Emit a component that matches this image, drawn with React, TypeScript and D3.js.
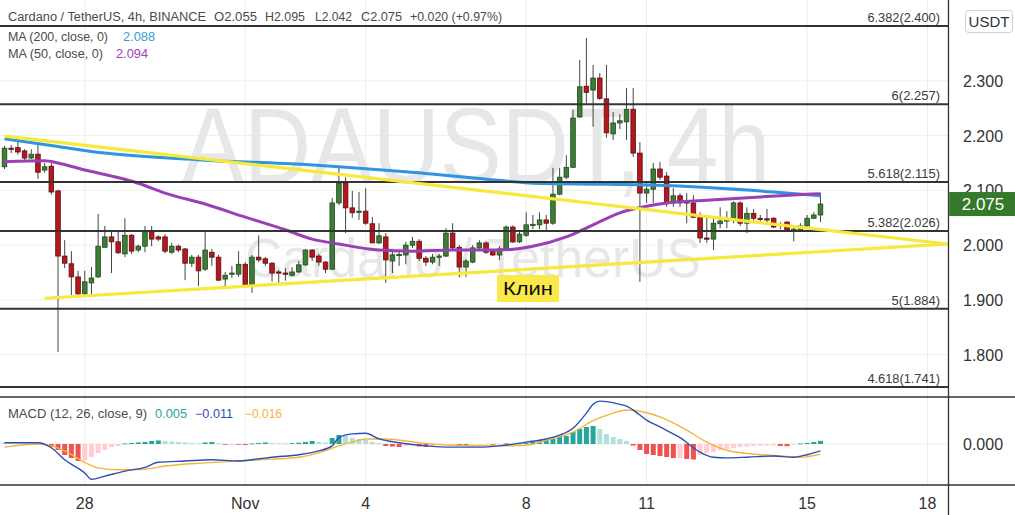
import React from "react";
import * as d3 from "d3";

// ---------- DATA ----------
const T0 = Date.UTC(2021, 9, 26, 0, 0); // first 4h candle: 26 Oct 00:00
const H4 = 4 * 3600 * 1000;

const opens = [
  2.143, 2.177, 2.178, 2.172, 2.159, 2.166, 2.137, 2.144, 2.099, 1.98,
  1.966, 1.942, 1.911, 1.931, 1.942, 1.996, 2.015, 2.006, 1.984, 2.018,
  1.991, 1.998, 2.026, 2.015, 2.015, 1.987, 1.998, 1.993, 1.967, 1.978,
  1.956, 1.987, 1.978, 1.938, 1.947, 1.947, 1.965, 1.927, 1.978, 1.975,
  1.967, 1.951, 1.949, 1.945, 1.951, 1.964, 1.991, 1.98, 1.969, 1.956,
  2.077, 2.113, 2.068, 2.062, 2.062, 2.039, 2.004, 2.015, 1.971, 1.982,
  1.982, 2.0, 2.007, 1.976, 1.969, 1.978, 1.98, 2.022, 1.996, 1.96,
  1.969, 1.995, 2.004, 1.989, 1.982, 1.993, 2.033, 2.006, 2.018, 2.036,
  2.037, 2.046, 2.04, 2.093, 2.124, 2.142, 2.234, 2.29, 2.283, 2.305,
  2.267, 2.203, 2.223, 2.225, 2.248, 2.168, 2.095, 2.102, 2.139, 2.126,
  2.077, 2.09, 2.079, 2.077, 2.053, 2.013, 2.011, 2.039, 2.044, 2.045,
  2.077, 2.04, 2.058, 2.049, 2.048, 2.049, 2.036, 2.042, 2.027, 2.027,
  2.035, 2.049, 2.055,
];
const highs = [
  2.181, 2.183, 2.188, 2.175, 2.175, 2.188, 2.15, 2.15, 2.101, 2.009,
  1.989, 1.953, 1.953, 1.96, 2.057, 2.035, 2.024, 2.024, 2.049, 2.02,
  2.001, 2.035, 2.035, 2.018, 2.02, 2.004, 2.001, 1.995, 1.982, 1.982,
  2.024, 1.993, 1.982, 1.951, 1.962, 1.989, 1.969, 1.982, 2.018, 1.978,
  1.969, 1.955, 1.958, 1.96, 1.971, 1.993, 1.993, 1.984, 1.971, 2.086,
  2.141, 2.124, 2.099, 2.097, 2.104, 2.051, 2.04, 2.022, 1.989, 1.991,
  2.006, 2.015, 2.011, 1.98, 1.984, 1.984, 2.031, 2.04, 2.0, 1.975,
  2.0, 2.009, 2.007, 1.991, 1.998, 2.036, 2.036, 2.027, 2.06, 2.055,
  2.06, 2.055, 2.141, 2.141, 2.164, 2.247, 2.338, 2.378, 2.329, 2.314,
  2.329, 2.243, 2.239, 2.287, 2.287, 2.188, 2.113, 2.15, 2.152, 2.133,
  2.104, 2.095, 2.095, 2.091, 2.06, 2.051, 2.051, 2.069, 2.062, 2.08,
  2.08, 2.069, 2.066, 2.055, 2.066, 2.051, 2.042, 2.044, 2.036, 2.04,
  2.055, 2.06, 2.095,
];
const lows = [
  2.139, 2.168, 2.165, 2.152, 2.157, 2.121, 2.132, 2.092, 1.805, 1.958,
  1.909, 1.909, 1.909, 1.909, 1.94, 1.996, 1.949, 1.984, 1.978, 1.984,
  1.987, 1.987, 1.998, 2.007, 1.985, 1.984, 1.987, 1.936, 1.96, 1.925,
  1.953, 1.962, 1.935, 1.924, 1.94, 1.942, 1.924, 1.913, 1.969, 1.962,
  1.933, 1.931, 1.935, 1.943, 1.949, 1.962, 1.971, 1.962, 1.949, 1.955,
  2.073, 2.022, 2.05, 2.046, 2.037, 2.004, 2.002, 1.931, 1.949, 1.962,
  1.965, 1.995, 1.971, 1.962, 1.965, 1.962, 1.978, 1.991, 1.942, 1.942,
  1.967, 1.991, 1.984, 1.98, 1.973, 1.991, 2.004, 2.004, 2.015, 2.029,
  2.029, 2.024, 2.037, 2.091, 2.12, 2.142, 2.232, 2.259, 2.216, 2.265,
  2.196, 2.192, 2.212, 2.192, 2.161, 1.933, 2.077, 2.077, 2.119, 2.07,
  2.07, 2.07, 2.04, 2.049, 2.004, 2.004, 1.991, 2.031, 2.031, 2.04,
  2.035, 2.022, 2.044, 2.04, 2.038, 2.031, 2.029, 2.024, 2.007, 2.024,
  2.033, 2.048, 2.042,
];
const closes = [
  2.177, 2.175, 2.17, 2.159, 2.166, 2.133, 2.143, 2.097, 1.98, 1.967,
  1.942, 1.911, 1.933, 1.94, 1.998, 2.015, 2.006, 1.986, 2.018, 1.989,
  1.998, 2.026, 2.011, 2.011, 1.989, 1.998, 1.991, 1.967, 1.978, 1.953,
  1.991, 1.978, 1.936, 1.945, 1.949, 1.965, 1.927, 1.978, 1.973, 1.967,
  1.949, 1.949, 1.947, 1.951, 1.964, 1.991, 1.978, 1.969, 1.956, 2.077,
  2.113, 2.068, 2.059, 2.062, 2.04, 2.004, 2.017, 1.973, 1.982, 1.983,
  2.0, 2.007, 1.976, 1.969, 1.978, 1.98, 2.022, 1.995, 1.96, 1.971,
  1.995, 2.004, 1.987, 1.982, 1.993, 2.033, 2.006, 2.02, 2.037, 2.038,
  2.046, 2.04, 2.093, 2.124, 2.142, 2.232, 2.289, 2.279, 2.305, 2.268,
  2.205, 2.223, 2.227, 2.248, 2.168, 2.095, 2.102, 2.139, 2.124, 2.077,
  2.09, 2.077, 2.077, 2.051, 2.013, 2.011, 2.04, 2.044, 2.046, 2.077,
  2.04, 2.058, 2.049, 2.047, 2.047, 2.033, 2.038, 2.027, 2.029, 2.035,
  2.049, 2.055, 2.075,
];

// moving averages, sampled [candle number, value]
const ma200: [number, number][] = [
  [1, 2.194], [9, 2.18], [16, 2.168], [31, 2.155], [46, 2.147], [51, 2.143],
  [61, 2.134], [76, 2.117], [80, 2.113], [91, 2.111], [100, 2.109], [106, 2.105],
  [116, 2.097], [123, 2.09],
];
const ma50: [number, number][] = [
  [1, 2.152], [7, 2.154], [9, 2.15], [13, 2.137], [17, 2.126], [21, 2.113],
  [25, 2.095], [31, 2.075], [37, 2.051], [43, 2.028], [47, 2.011], [51, 2.002],
  [57, 1.991], [62, 1.989], [68, 1.991], [75, 1.991], [80, 1.998], [85, 2.015],
  [89, 2.037], [93, 2.059], [97, 2.071], [100, 2.077], [106, 2.082], [114, 2.088],
  [123, 2.094],
];

// MACD
const histogram = [
  0.0024, 0.0024, 0.0024, 0.0016, 0.0008, 0.0005, -0.0008, -0.0048, -0.0095, -0.0175,
  -0.0222, -0.027, -0.0262, -0.0206, -0.0143, -0.0095, -0.0048, -0.0032, 0.0008, 0.0016,
  0.0024, 0.0032, 0.0048, 0.0056, 0.0048, 0.004, 0.0032, 0.0024, 0.0016, 0.0008,
  0.0024, 0.0032, 0.0008, -0.0005, -0.0005, -0.0008, -0.0016, 0.0008, 0.0016, 0.0024,
  0.0016, 0.0013, 0.0008, 0.0013, 0.0019, 0.0032, 0.0048, 0.0032, 0.0024, 0.0095,
  0.0143, 0.0127, 0.0095, 0.0079, 0.0063, 0.0032, 0.0016, -0.0032, -0.004, -0.0048,
  -0.0032, -0.0024, -0.004, -0.0048, -0.0032, -0.0016, -0.0008, -0.0005, -0.0016, -0.0019,
  -0.0008, -0.0008, -0.0005, -0.0008, -0.0005, 0.0008, 0.0005, 0.0008, 0.0016, 0.0032,
  0.004, 0.0063, 0.0079, 0.0111, 0.0127, 0.019, 0.0238, 0.027, 0.0286, 0.0238,
  0.0159, 0.0111, 0.0079, 0.0048, -0.0024, -0.0095, -0.0159, -0.0175, -0.019, -0.0206,
  -0.0222, -0.0222, -0.0238, -0.0246, -0.0175, -0.0143, -0.0127, -0.0095, -0.0079, -0.0063,
  -0.0048, -0.004, -0.0032, -0.0029, -0.0024, -0.0024, -0.0032, -0.0035, -0.0008, 0.0008,
  0.0016, 0.0032, 0.005,
];
const macdLine: [number, number][] = [
  [1, 0.002], [6, 0.002], [8, -0.006], [10, -0.025], [13, -0.046], [14, -0.056],
  [16, -0.051], [19, -0.043], [22, -0.037], [24, -0.029], [28, -0.027], [32, -0.025],
  [36, -0.027], [38, -0.025], [41, -0.021], [45, -0.017], [48, -0.011], [50, -0.003],
  [51, 0.01], [53, 0.016], [55, 0.017], [57, 0.008], [60, 0.002], [64, -0.003],
  [68, -0.005], [72, -0.005], [75, -0.003], [79, 0.003], [82, 0.008], [84, 0.014],
  [86, 0.025], [88, 0.049], [89, 0.063], [90, 0.068], [93, 0.063], [94, 0.06],
  [96, 0.046], [97, 0.038], [99, 0.027], [102, 0.01], [105, -0.013], [107, -0.021],
  [109, -0.022], [112, -0.021], [116, -0.019], [119, -0.021], [121, -0.017], [123, -0.011],
];
const signalLine: [number, number][] = [
  [1, -0.005], [6, 0.0], [8, -0.003], [10, -0.011], [13, -0.029], [15, -0.038],
  [18, -0.041], [22, -0.04], [25, -0.035], [31, -0.03], [36, -0.027], [41, -0.024],
  [45, -0.021], [48, -0.014], [51, -0.003], [53, 0.003], [55, 0.008], [58, 0.008],
  [63, 0.002], [68, -0.002], [75, -0.003], [79, -0.002], [82, 0.006], [86, 0.019],
  [89, 0.037], [92, 0.049], [94, 0.054], [96, 0.052], [99, 0.043], [103, 0.022],
  [106, 0.003], [109, -0.01], [113, -0.016], [117, -0.019], [120, -0.021], [123, -0.016],
];

// Fibonacci extension levels
const levelRatios = ["6.382", "6", "5.618", "5.382", "5", "4.618"];
const levelPrices = [2.4, 2.257, 2.115, 2.026, 1.884, 1.741];

// wedge trend lines [time, price]
const upperTrend: [number, number][] = [[Date.UTC(2021, 9, 26, 0), 2.199], [Date.UTC(2021, 10, 18, 12), 2.002]];
const lowerTrend: [number, number][] = [[Date.UTC(2021, 9, 27, 0), 1.903], [Date.UTC(2021, 10, 18, 12), 2.002]];

const priceTicks = [1.8, 1.9, 2.0, 2.1, 2.2, 2.3];
const dateTickTimes = [
  Date.UTC(2021, 9, 28), Date.UTC(2021, 10, 1), Date.UTC(2021, 10, 4), Date.UTC(2021, 10, 8),
  Date.UTC(2021, 10, 11), Date.UTC(2021, 10, 15), Date.UTC(2021, 10, 18),
];
const dateTickLabels = ["28", "Nov", "4", "8", "11", "15", "18"];

// ---------- CHART ----------
const FONT = "'Liberation Sans', Arial, sans-serif";
const UP = "#3d7d35";
const DOWN = "#b3181d";

export default function App() {
  const W = 1015, H = 515;
  const PR = 948.5; // plot right edge
  const P_TOP = 0, P_BOT = 397, M_BOT = 485;

  const x = d3.scaleUtc()
    .domain([new Date(T0), new Date(Date.UTC(2021, 10, 18))])
    .range([4.5, 927.5]);
  const yP = d3.scaleLinear().domain([1.741, 2.4]).range([387, 26]);
  const yM = d3.scaleLinear().domain([-0.0651, 0.0746]).range([M_BOT, P_BOT]);
  const tOf = (n: number) => new Date(T0 + (n - 1) * H4); // n = candle number (1-based)

  const maLine = d3.line<[number, number]>()
    .x((d) => x(tOf(d[0])))
    .y((d) => yP(d[1]))
    .curve(d3.curveMonotoneX);
  const mLine = d3.line<[number, number]>()
    .x((d) => x(tOf(d[0])))
    .y((d) => yM(d[1]))
    .curve(d3.curveMonotoneX);
  const tLine = d3.line<[number, number]>()
    .x((d) => x(new Date(d[0])))
    .y((d) => yP(d[1]));

  const bodyW = 4.6;
  const histW = 5;

  const histColor = (i: number) => {
    const v = histogram[i];
    const prev = i > 0 ? histogram[i - 1] : v;
    if (v >= 0) return v > prev ? "#26a69a" : "#b2dfdb";
    return v < prev ? "#ef5350" : "#ffcdd2";
  };

  const last = closes.length - 1;

  return (
    <div style={{ position: "absolute", left: 0, top: 0 }}>
      <svg width={W} height={H} style={{ display: "block", background: "#fff" }} fontFamily={FONT}>
        <defs>
          <clipPath id="pclip"><rect x={0} y={P_TOP} width={PR} height={P_BOT - P_TOP} /></clipPath>
          <clipPath id="mclip"><rect x={0} y={P_BOT} width={PR} height={M_BOT - P_BOT} /></clipPath>
        </defs>
        <rect x={0} y={0} width={W} height={H} fill="#fff" />

        {/* grid */}
        {dateTickTimes.map((t, i) => (
          <line key={"vg" + i} x1={x(new Date(t))} x2={x(new Date(t))} y1={0} y2={M_BOT} stroke="#ececec" strokeWidth={1} />
        ))}
        {priceTicks.map((p, i) => (
          <line key={"hg" + i} x1={0} x2={PR} y1={yP(p)} y2={yP(p)} stroke="#efefef" strokeWidth={1} />
        ))}
        <line x1={0} x2={PR} y1={yM(0)} y2={yM(0)} stroke="#ececec" strokeWidth={1} />

        {/* watermark */}
        <text x={476} y={183} textAnchor="middle" fontSize={108} fill="#e7e7e7"
          textLength={588} lengthAdjust="spacingAndGlyphs">ADAUSDT, 4h</text>
        <text x={473} y={277} textAnchor="middle" fontSize={56} fill="#e7e7e7"
          textLength={456} lengthAdjust="spacingAndGlyphs">Cardano / TetherUS</text>

        <g clipPath="url(#pclip)">
          {/* candles */}
          {opens.map((o, i) => {
            const c = closes[i];
            const cx = x(tOf(i + 1));
            const up = c >= o;
            const top = yP(Math.max(o, c));
            const bot = yP(Math.min(o, c));
            return (
              <g key={"c" + i}>
                <line x1={cx} x2={cx} y1={yP(highs[i])} y2={yP(lows[i])} stroke="#444" strokeWidth={1} />
                <rect x={cx - bodyW / 2} y={top} width={bodyW} height={Math.max(1.2, bot - top)}
                  fill={up ? UP : DOWN} stroke={up ? "#1f4a1c" : "#5e0d10"} strokeWidth={0.8} />
              </g>
            );
          })}

          {/* moving averages */}
          <path d={maLine(ma200) || ""} fill="none" stroke="#2f95de" strokeWidth={3} strokeLinejoin="round" />
          <path d={maLine(ma50) || ""} fill="none" stroke="#9b3fb6" strokeWidth={3} strokeLinejoin="round" />

          {/* levels */}
          {levelPrices.map((p, i) => {
            const label = `${levelRatios[i]}(${p.toFixed(3)})`;
            return (
              <g key={"lv" + i}>
                <line x1={0} x2={PR} y1={yP(p)} y2={yP(p)} stroke="#333" strokeWidth={2} />
                <text x={940} y={yP(p) - 4} textAnchor="end" fontSize={12} fill="#3a3a3a"
                  textLength={label.length * 6.05} lengthAdjust="spacingAndGlyphs">
                  {label}
                </text>
              </g>
            );
          })}

          {/* wedge */}
          <path d={tLine(upperTrend) || ""} fill="none" stroke="#f7e83c" strokeWidth={3.2} />
          <path d={tLine(lowerTrend) || ""} fill="none" stroke="#f7e83c" strokeWidth={3.2} />
        </g>

        {/* Клин label */}
        <rect x={497} y={275} width={62} height={27} fill="#fbe94a" />
        <text x={528} y={295} textAnchor="middle" fontSize={19} fill="#111"
          textLength={50} lengthAdjust="spacingAndGlyphs">Клин</text>

        {/* MACD pane */}
        <g clipPath="url(#mclip)">
          {histogram.map((v, i) => {
            const cx = x(tOf(i + 1));
            const y0 = yM(0), y1 = yM(v);
            return (
              <rect key={"h" + i} x={cx - histW / 2} y={Math.min(y0, y1)} width={histW}
                height={Math.max(0.8, Math.abs(y1 - y0))} fill={histColor(i)} />
            );
          })}
          <path d={mLine(signalLine) || ""} fill="none" stroke="#f2b53c" strokeWidth={1.4} />
          <path d={mLine(macdLine) || ""} fill="none" stroke="#2b4fb5" strokeWidth={1.4} />
        </g>

        {/* legends */}
        <g fontSize={12} fill="#4a4a4a">
          <text x={8} y={21} textLength={198} lengthAdjust="spacingAndGlyphs">Cardano / TetherUS, 4h, BINANCE</text>
          <text x={214} y={21} textLength={43} lengthAdjust="spacingAndGlyphs">O2.055</text>
          <text x={265} y={21} textLength={40} lengthAdjust="spacingAndGlyphs">H2.095</text>
          <text x={315} y={21} textLength={37} lengthAdjust="spacingAndGlyphs">L2.042</text>
          <text x={361} y={21} textLength={41} lengthAdjust="spacingAndGlyphs">C2.075</text>
          <text x={410} y={21} textLength={92} lengthAdjust="spacingAndGlyphs">+0.020 (+0.97%)</text>
          <text x={8} y={41} textLength={100} lengthAdjust="spacingAndGlyphs">MA (200, close, 0)</text>
          <text x={123} y={41} fill="#3a9bd8" textLength={32} lengthAdjust="spacingAndGlyphs">2.088</text>
          <text x={8} y={58} textLength={95} lengthAdjust="spacingAndGlyphs">MA (50, close, 0)</text>
          <text x={116} y={58} fill="#a040b5" textLength={32} lengthAdjust="spacingAndGlyphs">2.094</text>
          <text x={8} y={418} textLength={139} lengthAdjust="spacingAndGlyphs">MACD (12, 26, close, 9)</text>
          <text x={155} y={418} fill="#26a69a" textLength={32} lengthAdjust="spacingAndGlyphs">0.005</text>
          <text x={195} y={418} fill="#2b4fb5" textLength={38} lengthAdjust="spacingAndGlyphs">−0.011</text>
          <text x={245} y={418} fill="#f2b53c" textLength={37} lengthAdjust="spacingAndGlyphs">−0.016</text>
        </g>

        {/* pane borders */}
        <line x1={0} x2={W} y1={P_BOT} y2={P_BOT} stroke="#333" strokeWidth={1.3} />
        <line x1={0} x2={W} y1={M_BOT} y2={M_BOT} stroke="#333" strokeWidth={1.3} />
        <line x1={PR} x2={PR} y1={0} y2={H} stroke="#333" strokeWidth={1.3} />

        {/* right axis */}
        <g fontSize={16} fill="#333">
          {priceTicks.map((p, i) => (
            <text key={"pt" + i} x={963} y={yP(p) + 6}>{p.toFixed(3)}</text>
          ))}
          <text x={963} y={yM(0) + 6}>0.000</text>
        </g>
        <rect x={965.5} y={10.5} width={47} height={22} rx={3} fill="#fff" stroke="#d0d0d0" />
        <text x={989} y={27} textAnchor="middle" fontSize={15} fill="#333">USDT</text>

        {/* last price tag */}
        <rect x={PR + 0.7} y={yP(closes[last]) - 12} width={W - PR} height={24} fill="#357a2a" />
        <text x={983} y={yP(closes[last]) + 6} textAnchor="middle" fontSize={17} fill="#fff">
          {closes[last].toFixed(3)}
        </text>

        {/* time axis */}
        <g fontSize={16} fill="#333" textAnchor="middle">
          {dateTickTimes.map((t, i) => (
            <text key={"dt" + i} x={x(new Date(t))} y={509}>{dateTickLabels[i]}</text>
          ))}
        </g>
      </svg>
    </div>
  );
}
